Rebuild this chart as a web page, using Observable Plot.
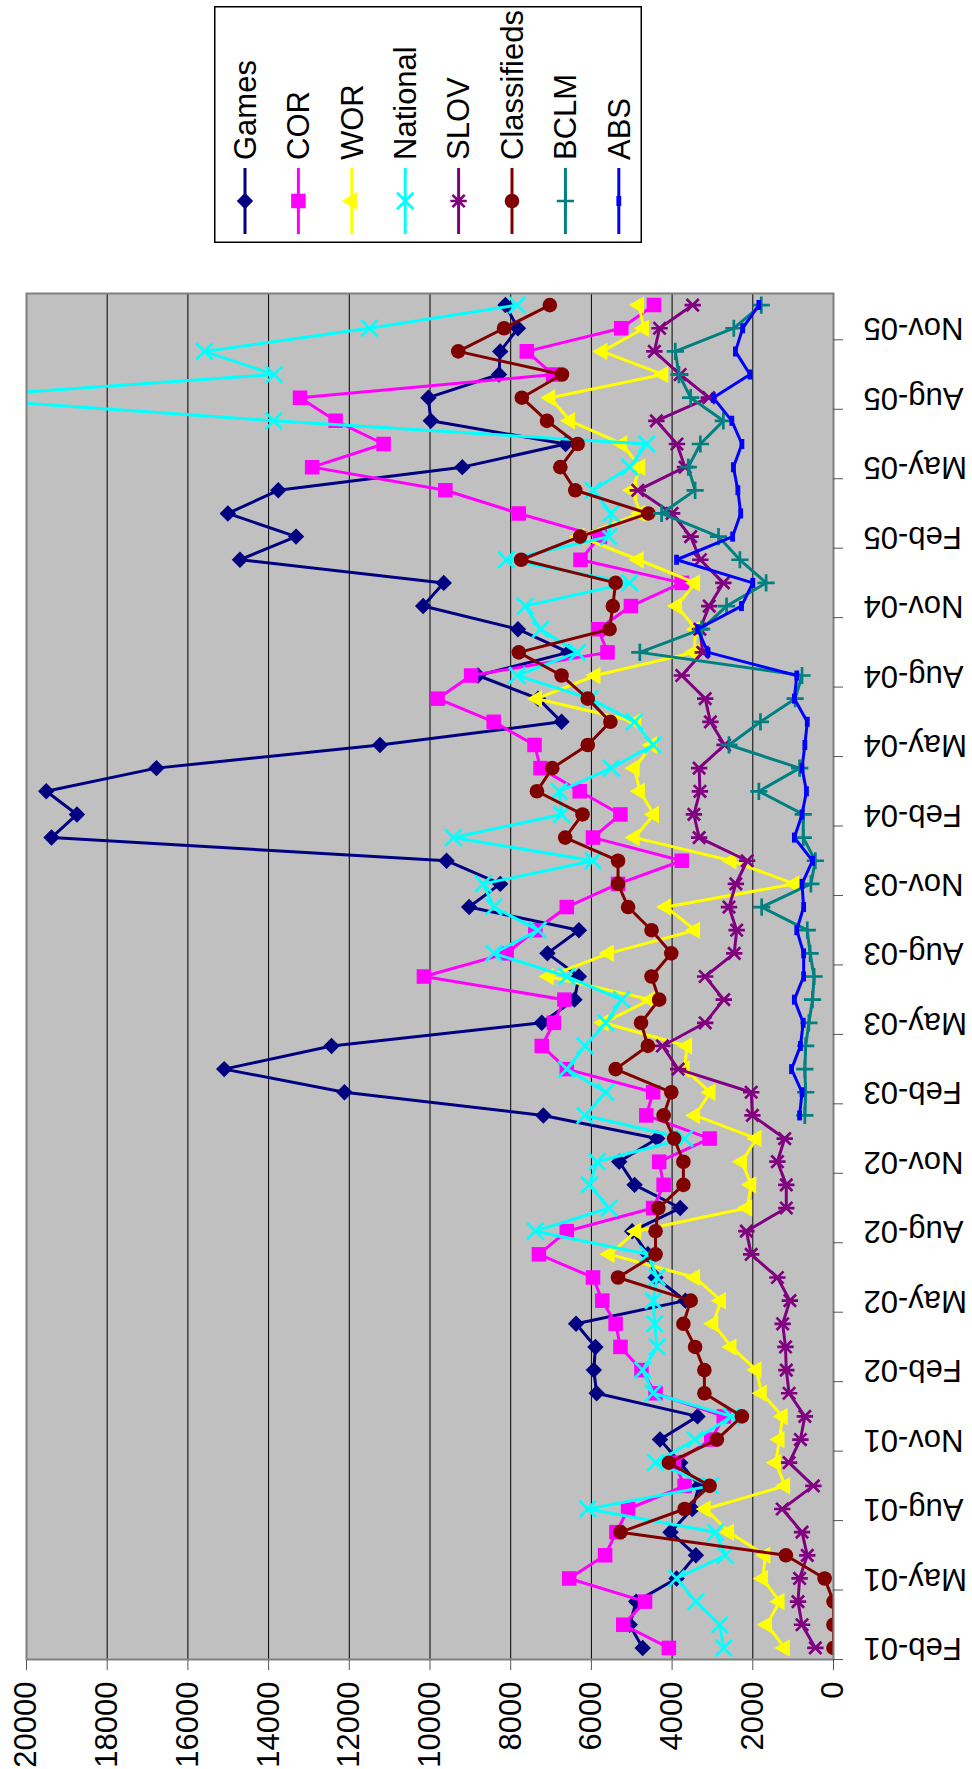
<!DOCTYPE html>
<html><head><meta charset="utf-8">
<script src="https://cdn.jsdelivr.net/npm/d3@7"></script>
<script src="https://cdn.jsdelivr.net/npm/@observablehq/plot@0.6"></script>
<style>
html,body{margin:0;padding:0;background:#fff;}
#page{position:relative;width:972px;height:1769px;overflow:hidden;background:#fff;}
#rot{position:absolute;left:0;top:0;width:1769px;height:972px;transform-origin:0 0;transform:translate(0px,1769px) rotate(-90deg);}
#legend{position:absolute;left:1526px;top:214px;overflow:visible;}
</style></head><body>
<div id="page"><div id="rot"><div id="chart"></div><svg id="legend" width="237" height="428"></svg></div></div>
<script>
const months = ["Feb-01","Mar-01","Apr-01","May-01","Jun-01","Jul-01","Aug-01","Sep-01","Oct-01","Nov-01","Dec-01",
"Jan-02","Feb-02","Mar-02","Apr-02","May-02","Jun-02","Jul-02","Aug-02","Sep-02","Oct-02","Nov-02","Dec-02",
"Jan-03","Feb-03","Mar-03","Apr-03","May-03","Jun-03","Jul-03","Aug-03","Sep-03","Oct-03","Nov-03","Dec-03",
"Jan-04","Feb-04","Mar-04","Apr-04","May-04","Jun-04","Jul-04","Aug-04","Sep-04","Oct-04","Nov-04","Dec-04",
"Jan-05","Feb-05","Mar-05","Apr-05","May-05","Jun-05","Jul-05","Aug-05","Sep-05","Oct-05","Nov-05","Dec-05"];
const labelMonths = ["Feb-01","May-01","Aug-01","Nov-01","Feb-02","May-02","Aug-02","Nov-02","Feb-03","May-03","Aug-03","Nov-03","Feb-04","May-04","Aug-04","Nov-04","Feb-05","May-05","Aug-05","Nov-05"];
const yTicks = [0,2000,4000,6000,8000,10000,12000,14000,16000,18000,20000];

const games = [4730,5050,4890,3890,3410,4040,3500,3330,3800,4300,
3370,5870,5940,5900,6380,3670,4410,4600,4990,3800,
4930,5310,4370,7190,12120,15100,12440,7230,6420,6310,
7090,6310,9030,8260,9590,19380,18750,19510,16780,11240,
6740,7320,8810,6570,7820,10170,9660,14710,13320,15010,
13760,9200,6640,9980,10040,8290,8260,7820,8130];
const cor = [4080,5210,4670,6550,5660,5380,5090,3690,3950,3030,
2720,4410,4760,5280,5400,5730,5960,7300,6610,4470,
4210,4320,3070,4640,4470,6610,7230,6930,6670,10150,
8100,7390,6610,5340,3760,5960,5280,6290,7260,7410,
8420,9810,8980,5600,5830,5020,3760,6270,5790,7800,
9620,12920,11150,12340,13220,6950,7600,5260,4450];
const wor = [1210,1650,1340,1750,1690,2590,3170,1200,1430,1340,
1260,1780,1910,2530,2980,2790,3430,5550,4890,2140,
2040,2270,1910,3430,3050,3690,3630,5700,4540,7060,
5570,3430,4150,970,2530,4930,4450,4800,4930,4500,
4890,7350,5900,3460,3410,3880,3430,4830,6300,4790,
4990,4790,5240,6530,7020,4220,5730,4700,4820];
const national = [2720,2820,3410,3890,2680,2920,6090,3050,4410,3430,
2530,4470,4730,4370,4430,4470,4370,4600,7390,5560,
6050,5860,3690,6160,5640,6610,6160,5640,5250,6610,
8420,7320,8420,8680,5960,9420,6740,6800,5510,4470,
4930,6030,7840,6350,7260,7640,5050,8110,5570,5510,
5960,5050,4630,13870,22000,13860,15590,11500,7840];
const slov = [450,780,880,840,650,780,1270,500,1100,820,
710,1100,1170,1190,1260,1080,1390,2040,2160,1170,
1170,1390,1210,2010,2040,3850,4240,3180,2720,3180,
2460,2400,2590,2420,2140,3330,3460,3310,3330,2700,
3050,3180,3760,3240,3310,3080,2730,3300,3540,4000,
4850,3680,3880,4390,3090,3800,4440,4310,3490];
const classifieds = [0,0,0,220,1180,5280,3690,3070,4080,2890,
2270,3200,3200,3430,3720,3540,5340,4410,4410,4340,
3720,3720,3950,4210,4020,5400,4600,4770,4320,4510,
4020,4510,5090,5340,5340,6650,6220,7350,6970,6090,
5530,6090,6740,7800,5550,5470,5400,7740,6280,4590,
6400,6770,6340,7100,7725,6730,9300,8165,7030];
const bclm = [null,null,null,null,null,null,null,null,null,null,
null,null,null,null,null,null,null,null,null,null,
null,null,null,710,690,710,690,610,520,480,
580,650,1780,560,450,750,750,1850,840,2590,
1810,950,780,4800,3270,2650,1670,2320,2850,4260,
3430,3600,3300,2730,3540,3830,3920,2470,1790];
const abs = [null,null,null,null,null,null,null,null,null,null,
null,null,null,null,null,null,null,null,null,null,
null,null,null,840,780,1040,820,750,970,740,
740,910,740,780,520,970,780,670,780,710,
650,970,910,3110,3370,2280,2000,3890,2500,2300,
2370,2480,2270,2520,2980,2070,2430,2250,1850];

// custom marker shapes
const starSym = {draw(ctx, size) {
  const r = Math.sqrt(size) * 0.6, d = r * 0.75;
  ctx.moveTo(0, -r); ctx.lineTo(0, r);
  ctx.moveTo(-d, -d); ctx.lineTo(d, d);
  ctx.moveTo(-d, d); ctx.lineTo(d, -d);
}};
const dashSym = {draw(ctx, size) { ctx.rect(-5, -2.4, 10, 4.8); }};

const series = [
  {name: "Games", values: games, color: "#000080", sym: d3.symbolDiamond2, r: 7.4, filled: true},
  {name: "COR", values: cor, color: "#FF00FF", sym: d3.symbolSquare, r: 8.2, filled: true},
  {name: "WOR", values: wor, color: "#FFFF00", sym: d3.symbolTriangle, r: 6.5, filled: true},
  {name: "National", values: national, color: "#00FFFF", sym: d3.symbolTimes, r: 7.5, filled: false},
  {name: "SLOV", values: slov, color: "#800080", sym: starSym, r: 7.7, filled: false},
  {name: "Classifieds", values: classifieds, color: "#800000", sym: d3.symbolCircle, r: 7.3, filled: true},
  {name: "BCLM", values: bclm, color: "#008080", sym: d3.symbolPlus, r: 5.6, filled: false},
  {name: "ABS", values: abs, color: "#0000FF", sym: dashSym, r: 5, filled: true}
];

const FONT = "'Liberation Sans', Arial, Helvetica, sans-serif";
const FS = 31;
const labelIdx = labelMonths.map(m => months.indexOf(m));
const bounds = labelIdx.map(i => i - 0.5);

const marks = [
  Plot.frame({fill: "#C0C0C0"}),
  Plot.gridY(yTicks, {stroke: "#000", strokeOpacity: 1, strokeWidth: 1})
];
for (const s of series) {
  const data = s.values.map((v, i) => ({i, v})).filter(d => d.v != null);
  marks.push(Plot.line(data, {x: "i", y: "v", stroke: s.color, strokeWidth: 3, clip: true}));
  marks.push(Plot.dot(data, {
    x: "i", y: "v", symbol: s.sym, r: s.r,
    fill: s.filled ? s.color : "none",
    stroke: s.filled ? "none" : s.color,
    strokeWidth: s.filled ? 0 : 2.7,
    clip: true
  }));
}
marks.push(
  Plot.frame({stroke: "#808080", strokeWidth: 2}),
  Plot.axisY({ticks: yTicks, tickFormat: d => String(d), tickSize: 10, tickPadding: 12, fontSize: FS, stroke: "#555", fill: "#000", label: null}),
  Plot.axisX({ticks: bounds, tickFormat: () => "", tickSize: 10, stroke: "#555", label: null}),
  Plot.axisX({ticks: labelIdx, tickFormat: i => months[i], tickSize: 0, tickPadding: 30, tickRotate: -90, fontSize: FS, fill: "#000", label: null})
);

const chart = Plot.plot({
  width: 1769, height: 972,
  marginLeft: 109, marginRight: 294, marginTop: 26, marginBottom: 139,
  x: {domain: [-0.5, 58.5]},
  y: {domain: [0, 20000]},
  style: {fontFamily: FONT, fontSize: FS + "px", color: "#000", background: "transparent", overflow: "visible"},
  marks
});
document.getElementById("chart").appendChild(chart);

// legend
const lg = d3.select("#legend");
lg.append("rect").attr("x", 0.75).attr("y", 0.75).attr("width", 235.5).attr("height", 426.5)
  .attr("fill", "#fff").attr("stroke", "#000").attr("stroke-width", 1.5);
series.forEach((s, k) => {
  const y = 31 + 53.4 * k;
  const g = lg.append("g");
  g.append("line").attr("x1", 9).attr("x2", 75).attr("y1", y).attr("y2", y)
    .attr("stroke", s.color).attr("stroke-width", 3);
  g.append("path").attr("transform", `translate(42,${y})`)
    .attr("d", d3.symbol(s.sym, Math.PI * s.r * s.r)())
    .attr("fill", s.filled ? s.color : "none")
    .attr("stroke", s.filled ? "none" : s.color)
    .attr("stroke-width", s.filled ? 0 : 2.7);
  g.append("text").attr("x", 83).attr("y", y).attr("dy", "0.35em")
    .attr("font-family", FONT).attr("font-size", FS).attr("fill", "#000").text(s.name);
});
</script>
</body></html>
